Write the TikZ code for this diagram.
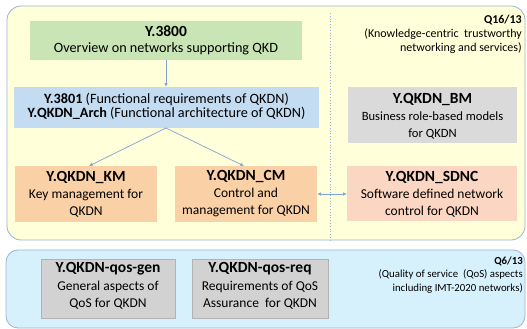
\documentclass[tikz,border=0pt]{standalone}
\usepackage{fontspec}
\setmainfont{Carlito}
\usetikzlibrary{arrows.meta,shadows}
\definecolor{yel}{HTML}{FFFFD9}
\definecolor{frame}{HTML}{9DB3D1}
\definecolor{grn}{HTML}{C9E5B5}
\definecolor{blu}{HTML}{C4DCF2}
\definecolor{org}{HTML}{FAD0A6}
\definecolor{pnk}{HTML}{FBD6C2}
\definecolor{gry}{HTML}{DADADA}
\definecolor{cyanbg}{HTML}{D7F1FC}
\definecolor{qgry}{HTML}{D2D2D2}
\definecolor{arr}{HTML}{7FA3D3}
\newcommand{\ttl}[1]{{\fontsize{15.5}{17}\selectfont\bfseries #1}}
\tikzset{
  box/.style={inner sep=0pt, align=center, font=\fontsize{13.5}{17}\selectfont},
  conn/.style={draw=arr, line width=0.7pt, -{Latex[length=4pt,width=3.5pt]}},
  qbox/.style={fill=qgry, draw=gray!60, line width=0.4pt, drop shadow={shadow xshift=1pt,shadow yshift=-1pt,opacity=0.3}},
}
\begin{document}
\begin{tikzpicture}[x=1pt,y=-1pt]
\useasboundingbox (0,0) rectangle (527,329);
% group frames
\path[draw=frame, fill=yel, line width=0.8pt, rounded corners=14pt] (7,6) rectangle (525,240);
\path[draw=frame, fill=cyanbg, line width=0.8pt, rounded corners=12pt] (6,250) rectangle (525,328);
\draw[arr!80, line width=0.8pt, dotted] (330,13) -- (330,240);
% boxes
\path[fill=grn] (30,21) rectangle (302,60);
\node[box, font=\fontsize{14.2}{16}\selectfont] (y3800) at (166,40.5) {\ttl{Y.3800}\\Overview on networks supporting QKD};
\path[fill=blu] (14,87) rectangle (319,128);
\node[box, font=\fontsize{14.2}{14.5}\selectfont] (y3801) at (166.5,106.5) {\textbf{Y.3801} (Functional requirements of QKDN)\\\textbf{Y.QKDN\_Arch} (Functional architecture of QKDN)};
\path[fill=gry] (348,87) rectangle (517,143);
\node[box, font=\fontsize{12.6}{17}\selectfont] (bm) at (432.5,116) {\ttl{Y.QKDN\_BM}\\Business role-based models\\for QKDN};
\path[fill=org] (15,166) rectangle (157,222);
\node[box] (km) at (86,194) {\ttl{Y.QKDN\_KM}\\Key management for\\QKDN};
\path[fill=org] (175,166) rectangle (317,222);
\node[box] (cm) at (246,194) {\ttl{Y.QKDN\_CM}\\Control and\\management for QKDN};
\path[fill=pnk] (347,166) rectangle (517,221);
\node[box] (sdnc) at (432,194) {\ttl{Y.QKDN\_SDNC}\\Software defined network\\control for QKDN};
% qos boxes
\path[qbox] (41,259) rectangle (175,318);
\node[box, font=\fontsize{13.5}{17.5}\selectfont] (qgen) at (108,286) {\ttl{Y.QKDN-qos-gen}\\General aspects of\\QoS for QKDN};
\path[qbox] (192,259) rectangle (328,318);
\node[box, font=\fontsize{13.5}{17.5}\selectfont] (qreq) at (260,286) {\ttl{Y.QKDN-qos-req}\\Requirements of QoS\\Assurance\ \ for QKDN};
% labels
\node[box, align=right, anchor=east, font=\fontsize{12}{14}\selectfont] (q16) at (522,34) {\textbf{Q16/13}\\(Knowledge-centric\ \ trustworthy\\networking and services)};
\node[box, align=right, anchor=east, font=\fontsize{10.8}{13.5}\selectfont] (q6) at (523,275) {\textbf{Q6/13}\\(Quality of service\ \ (QoS) aspects\\including IMT-2020 networks)};
% connectors
\coordinate (gb) at (166,60);
\coordinate (bt) at (166,87);
\coordinate (bb) at (166,128);
\coordinate (kt) at (89,166);
\coordinate (ct) at (244,166);
\draw[conn] (gb) -- (bt);
\draw[conn] (bb) -- (kt);
\draw[conn] (bb) -- (ct);
\coordinate (cr) at (317,194);
\coordinate (sl) at (347,194);
\draw[draw=arr, line width=0.7pt, {Latex[length=4pt,width=3.5pt]}-{Latex[length=4pt,width=3.5pt]}] (cr) -- (sl);
\end{tikzpicture}
\end{document}
